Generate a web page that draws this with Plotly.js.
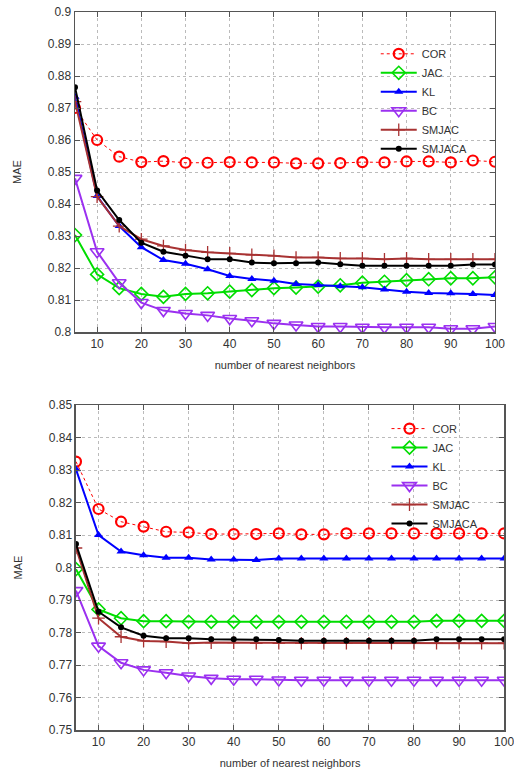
<!DOCTYPE html>
<html>
<head>
<meta charset="utf-8">
<script src="https://cdn.plot.ly/plotly-3.0.1.min.js"></script>
<style>html,body{margin:0;padding:0;background:#fff}#chart{width:514px;height:773px}</style>
</head>
<body>
<div id="chart"></div>
<script>
const neighbors = [5,10,15,20,25,30,35,40,45,50,55,60,65,70,75,80,85,90,95,100];
const seriesNames = ["COR","JAC","KL","BC","SMJAC","SMJACA"];

// top panel
const corTop    = [0.8700,0.8600,0.8548,0.8531,0.8534,0.8529,0.8529,0.8531,0.8530,0.8530,0.8527,0.8527,0.8528,0.8531,0.8530,0.8533,0.8533,0.8530,0.8536,0.8532];
const jacTop    = [0.8303,0.8180,0.8137,0.8119,0.8110,0.8119,0.8121,0.8126,0.8131,0.8137,0.8139,0.8142,0.8146,0.8154,0.8157,0.8162,0.8165,0.8168,0.8168,0.8171];
const klTop     = [0.8735,0.8425,0.8331,0.8265,0.8225,0.8213,0.8196,0.8175,0.8166,0.8160,0.8150,0.8147,0.8143,0.8140,0.8133,0.8126,0.8122,0.8121,0.8119,0.8116];
const bcTop     = [0.8480,0.8251,0.8154,0.8092,0.8067,0.8058,0.8052,0.8042,0.8035,0.8027,0.8022,0.8017,0.8017,0.8015,0.8015,0.8015,0.8015,0.8010,0.8010,0.8017];
const smjacTop  = [0.8720,0.8423,0.8331,0.8290,0.8269,0.8256,0.8249,0.8246,0.8241,0.8238,0.8233,0.8233,0.8230,0.8230,0.8227,0.8230,0.8227,0.8227,0.8227,0.8227];
const smjacaTop = [0.8765,0.8442,0.8350,0.8279,0.8251,0.8238,0.8227,0.8227,0.8217,0.8215,0.8215,0.8217,0.8212,0.8207,0.8207,0.8207,0.8207,0.8207,0.8211,0.8211];

// bottom panel
const corBot    = [0.8326,0.8180,0.8141,0.8126,0.8110,0.8108,0.8103,0.8103,0.8103,0.8105,0.8102,0.8102,0.8105,0.8105,0.8105,0.8105,0.8105,0.8105,0.8105,0.8105];
const jacBot    = [0.7995,0.7871,0.7844,0.7835,0.7835,0.7833,0.7833,0.7833,0.7833,0.7833,0.7833,0.7833,0.7833,0.7833,0.7833,0.7833,0.7836,0.7836,0.7836,0.7836];
const klBot     = [0.8302,0.8100,0.8049,0.8038,0.8030,0.8030,0.8025,0.8025,0.8023,0.8028,0.8028,0.8028,0.8028,0.8028,0.8028,0.8028,0.8028,0.8028,0.8028,0.8028];
const bcBot     = [0.7929,0.7758,0.7707,0.7685,0.7676,0.7666,0.7659,0.7656,0.7656,0.7654,0.7653,0.7653,0.7653,0.7653,0.7653,0.7653,0.7653,0.7653,0.7653,0.7653];
const smjacBot  = [0.8060,0.7844,0.7787,0.7774,0.7772,0.7767,0.7769,0.7769,0.7767,0.7767,0.7767,0.7767,0.7767,0.7767,0.7767,0.7767,0.7767,0.7767,0.7767,0.7767];
const smjacaBot = [0.8072,0.7864,0.7816,0.7790,0.7782,0.7782,0.7779,0.7779,0.7779,0.7777,0.7775,0.7775,0.7775,0.7775,0.7775,0.7775,0.7779,0.7779,0.7779,0.7779];

const topSeries = [corTop, jacTop, klTop, bcTop, smjacTop, smjacaTop];
const botSeries = [corBot, jacBot, klBot, bcBot, smjacBot, smjacaBot];

const styles = [
  {color:"#ff0000", dash:"dot", width:1, symbol:"circle-open", size:10, mlw:2.2},
  {color:"#00dd00", dash:"solid", width:2, symbol:"diamond-open", size:10, mlw:1.6},
  {color:"#0000ff", dash:"solid", width:2, symbol:"triangle-up", size:8, mlw:0},
  {color:"#9b30f0", dash:"solid", width:2, symbol:"triangle-down-open", size:12, mlw:1.6},
  {color:"#a83232", dash:"solid", width:2, symbol:"cross-thin-open", size:9, mlw:1.3},
  {color:"#000000", dash:"solid", width:2, symbol:"circle", size:6, mlw:0}
];

const traces = [];
function addPanel(series, xa, ya, leg){
  series.forEach((vals, i) => {
    const s = styles[i];
    traces.push({
      x: neighbors, y: vals, name: seriesNames[i], type:"scatter", mode:"lines+markers",
      xaxis: xa, yaxis: ya, legend: leg,
      line: {color: s.color, width: s.width, dash: s.dash},
      marker: {symbol: s.symbol, size: s.size, color: s.color, line: {color: s.color, width: s.mlw}}
    });
  });
}
addPanel(topSeries, "x", "y", "legend");
addPanel(botSeries, "x2", "y2", "legend2");

const font = {family:"Liberation Sans, Arial, sans-serif", size:11, color:"#333"};
const xCommon = {
  tickmode:"linear", tick0:0, dtick:10, ticks:"inside", ticklen:5, tickcolor:"#555",
  showline:true, linecolor:"#555", linewidth:1.5, mirror:"ticks",
  showgrid:true, gridcolor:"#bbb", griddash:"dot", gridwidth:1, zeroline:false,
  ticklabeloverflow:"allow",
  tickfont:{family:font.family, size:12, color:"#333"}
};
const yCommon = {
  tickmode:"linear", dtick:0.01, ticks:"inside", ticklen:5, tickcolor:"#555",
  showline:true, linecolor:"#555", linewidth:1.5, mirror:"ticks",
  showgrid:true, gridcolor:"#bbb", griddash:"dot", gridwidth:1, zeroline:false,
  tickfont:{family:font.family, size:12, color:"#333"}
};

const layout = {
  width:514, height:773, font: font,
  paper_bgcolor:"#fff", plot_bgcolor:"#fff",
  margin:{l:75, r:9, t:12, b:43},
  xaxis: Object.assign({}, xCommon, {domain:[0,0.9767], range:[5,100], anchor:"y",
    title:{text:"number of nearest neighbors", font:{size:11, color:"#333"}, standoff:11}}),
  yaxis: Object.assign({}, yCommon, {domain:[0.5543,1], range:[0.8,0.9], tick0:0.8, anchor:"x",
    title:{text:"MAE", font:{size:11, color:"#333"}, standoff:24}}),
  xaxis2: Object.assign({}, xCommon, {domain:[0.0023,0.998], range:[5,100], anchor:"y2",
    title:{text:"number of nearest neighbors", font:{size:11, color:"#333"}, standoff:11}}),
  yaxis2: Object.assign({}, yCommon, {domain:[0,0.4526], range:[0.75,0.85], tick0:0.75, anchor:"x2",
    title:{text:"MAE", font:{size:11, color:"#333"}, standoff:24}}),
  legend: {x:0.925, xanchor:"right", y:0.962, yanchor:"top", bgcolor:"rgba(255,255,255,0)", borderwidth:0,
    font:{size:11, color:"#333"}, tracegroupgap:0, itemwidth:36},
  legend2: {x:0.95, xanchor:"right", y:0.44, yanchor:"top", bgcolor:"rgba(255,255,255,0)", borderwidth:0,
    font:{size:11, color:"#333"}, tracegroupgap:0, itemwidth:36},
  showlegend:true
};

Plotly.newPlot("chart", traces, layout, {displayModeBar:false, staticPlot:true});
</script>
</body>
</html>
